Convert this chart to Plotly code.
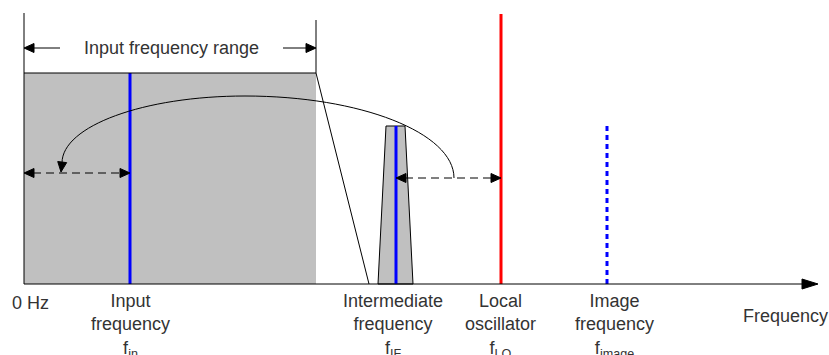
import plotly.graph_objects as go

# ---- data (x: frequency in diagram units, 0 = 0 Hz; y: level) ----
signal_names = ["Input frequency", "Intermediate frequency", "Local oscillator", "Image frequency"]
signal_freq = [106, 372, 477, 583]
signal_level = [211, 158, 270, 159]
signal_color = ["#0000ff", "#0000ff", "#ff0000", "#0000ff"]
signal_dash = ["solid", "solid", "solid", "5px,4px"]

input_range = [0, 292]
input_level = 211

if_filter_bottom = [354, 389]
if_filter_top = [362, 381]
if_filter_level = 158

label_texts = ["Input<br>frequency<br>f<sub>in</sub>",
               "Intermediate<br>frequency<br>f<sub>IF</sub>",
               "Local<br>oscillator<br>f<sub>LO</sub>",
               "Image<br>frequency<br>f<sub>image</sub>"]
label_x = [106, 369, 476, 590]

axis_end = 794
FONT = dict(family="Liberation Sans, Arial, sans-serif", size=18, color="#333333")

fig = go.Figure()

# input frequency range band
fig.add_trace(go.Scatter(
    x=[input_range[0], input_range[1], input_range[1], input_range[0], input_range[0]],
    y=[0, 0, input_level, input_level, 0],
    fill="toself", fillcolor="#c0c0c0", mode="none", hoverinfo="skip"))

# IF filter trapezoid
fig.add_trace(go.Scatter(
    x=[if_filter_bottom[0], if_filter_top[0], if_filter_top[1], if_filter_bottom[1], if_filter_bottom[0]],
    y=[0, if_filter_level, if_filter_level, 0, 0],
    fill="toself", fillcolor="#c0c0c0", mode="lines",
    line=dict(color="black", width=1), hoverinfo="skip"))

# signal lines
for f, lv, c, d in zip(signal_freq, signal_level, signal_color, signal_dash):
    fig.add_trace(go.Scatter(x=[f, f], y=[0, lv], mode="lines",
                             line=dict(color=c, width=3, dash=d), hoverinfo="skip"))

shapes = []
def line(x0, y0, x1, y1, dash="solid", w=1):
    shapes.append(dict(type="line", xref="x", yref="y", x0=x0, y0=y0, x1=x1, y1=y1,
                       line=dict(color="black", width=w, dash=dash)))

def head(tx, ty, dx, dy, L=10, W=4.5):
    n = (dx * dx + dy * dy) ** 0.5
    ux, uy = dx / n, dy / n
    bx, by = tx - ux * L, ty - uy * L
    px, py = -uy, ux
    p = f"M {tx},{ty} L {bx + px * W},{by + py * W} L {bx - px * W},{by - py * W} Z"
    shapes.append(dict(type="path", xref="x", yref="y", path=p,
                       fillcolor="black", line=dict(color="black", width=1)))

# axes
line(0, 0, axis_end - 8, 0)
head(axis_end, 0, 1, 0, L=16, W=5)
line(0, 0, 0, 271)
# band top & range markers
line(input_range[0], input_level, input_range[1], input_level)
line(input_range[1], input_level, input_range[1], 264)
# diagonal from band to IF
line(input_range[1], input_level, 345, 0)
# input frequency range arrows
line(36, 236, 8, 236)
head(0, 236, -1, 0)
line(259, 236, 284, 236)
head(292, 236, 1, 0)
# dashed arrows
line(9, 111, 97, 111, dash="8px,5px")
head(0, 111, -1, 0)
head(signal_freq[0], 111, 1, 0)
line(signal_freq[1] + 9, 106, signal_freq[2] - 9, 106, dash="8px,5px")
head(signal_freq[1], 106, -1, 0)
head(signal_freq[2], 106, 1, 0)

# curve from IF side back to the input side
k = 0.5523
x0, y0 = 430, 106       # right end
xp, yp = 221, 188       # peak
xl, yl = 38, 121        # left end
path = (f"M {x0},{y0} C {x0},{y0 + k * (yp - y0)} {xp + k * (x0 - xp)},{yp} {xp},{yp} "
        f"C {xp - k * (xp - xl)},{yp} {xl},{yl + k * (yp - yl)} {xl},{yl}")
shapes.append(dict(type="path", xref="x", yref="y", path=path,
                   line=dict(color="black", width=1)))
head(37, 112, -0.12, -1)

annotations = []
for t, x in zip(label_texts, label_x):
    annotations.append(dict(x=x, y=-5, xref="x", yref="y", text=t, showarrow=False,
                            xanchor="center", yanchor="top", font=FONT, align="center"))
annotations.append(dict(x=6, y=-19, xref="x", yref="y", text="0 Hz", showarrow=False,
                        xanchor="center", yanchor="middle", font=FONT))
annotations.append(dict(x=761, y=-32, xref="x", yref="y", text="Frequency", showarrow=False,
                        xanchor="center", yanchor="middle", font=FONT))
annotations.append(dict(x=147, y=236, xref="x", yref="y", text="Input frequency range",
                        showarrow=False, xanchor="center", yanchor="middle", font=FONT))

fig.update_layout(
    width=829, height=355, margin=dict(l=0, r=0, t=0, b=0),
    paper_bgcolor="white", plot_bgcolor="white", showlegend=False,
    xaxis=dict(range=[-24, 805], visible=False, fixedrange=True),
    yaxis=dict(range=[-71, 284], visible=False, fixedrange=True),
    shapes=shapes, annotations=annotations)

fig.write_html("out.html", config={"displayModeBar": False},
               post_script="document.body.style.margin='0';document.body.style.overflow='hidden';")
